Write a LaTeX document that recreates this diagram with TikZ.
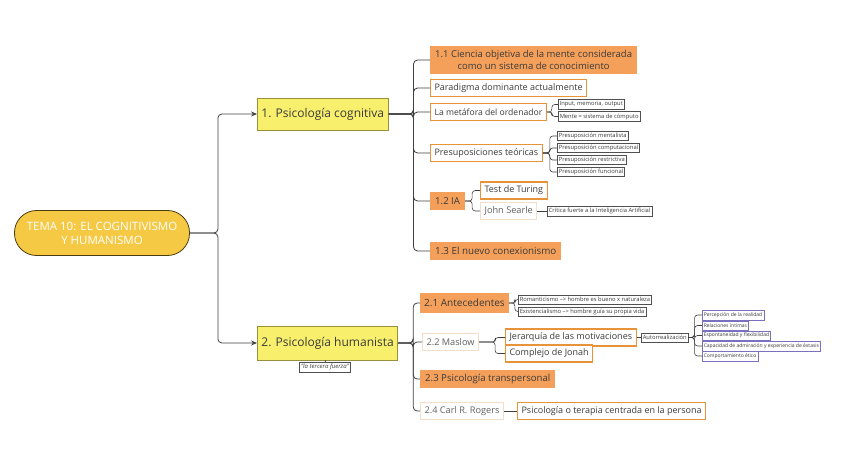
\documentclass[tikz,border=0pt]{standalone}
\usepackage{fontspec}
\setmainfont{Open Sans}
\usetikzlibrary{arrows.meta}
\definecolor{txt}{HTML}{3A3A3A}
\definecolor{rootfill}{HTML}{F6C945}
\definecolor{rootdraw}{HTML}{4A3C10}
\definecolor{lfill}{HTML}{F8F06C}
\definecolor{ldraw}{HTML}{9A8F3A}
\definecolor{ofill}{HTML}{F5A05A}
\definecolor{odraw}{HTML}{E8923A}
\definecolor{pale}{HTML}{F2DECB}
\definecolor{sgray}{HTML}{505050}
\definecolor{purp}{HTML}{7A70C0}
\definecolor{conn}{HTML}{404040}
\tikzset{
  base/.style={inner sep=0pt, text=txt, anchor=west, align=center},
  rootbox/.style={base, anchor=center, fill=rootfill, draw=rootdraw, line width=0.8pt, rounded corners=22pt, minimum width=175pt, minimum height=45pt, text=white, font=\fontsize{11.5}{14}\selectfont},
  lone/.style={base, fill=lfill, draw=ldraw, line width=0.8pt, minimum height=32pt, inner xsep=4pt, font=\fontsize{12}{14}\selectfont},
  ofilled/.style={base, fill=ofill, minimum height=18pt, inner xsep=5pt, font=\fontsize{9.6}{11}\selectfont},
  obox/.style={base, fill=white, draw=odraw, line width=1.1pt, minimum height=17pt, inner xsep=4pt, font=\fontsize{9}{11}\selectfont},
  pbox/.style={base, fill=white, draw=pale, line width=1.1pt, minimum height=17pt, inner xsep=4pt, font=\fontsize{9.2}{11}\selectfont, text=txt!80},
  sbox/.style={base, fill=white, draw=sgray, line width=0.5pt, minimum height=9.5pt, inner xsep=1.5pt, font=\fontsize{5.8}{6}\selectfont},
  vbox/.style={sbox, draw=purp, font=\fontsize{5}{6}\selectfont},
  link/.style={draw=conn, line width=0.8pt, rounded corners=4pt},
  slink/.style={draw=conn, line width=0.6pt, rounded corners=3pt},
}
\begin{document}
\begin{tikzpicture}[x=1pt,y=-1pt]
\useasboundingbox[fill=white] (0,0) rectangle (848,465);
% root
\node[rootbox] (root) at (102,233) {TEMA 10: EL COGNITIVISMO\\Y HUMANISMO};
% level 1
\node[lone] (cog) at (257,114) {1. Psicología cognitiva};
\node[lone, minimum height=34pt] (hum) at (257,343) {2. Psicología humanista};
\node[sbox, anchor=center, font=\fontsize{6}{7}\selectfont\itshape] (nota) at (325,367) {"la tercera fuerza"};
% cognitive children
\node[ofilled, minimum height=28pt, font=\fontsize{9.5}{11.5}\selectfont] (c11) at (430,60) {1.1 Ciencia objetiva de la mente considerada\\como un sistema de conocimiento};
\node[obox] (par) at (430,88) {Paradigma dominante actualmente};
\node[obox, font=\fontsize{8.6}{11}\selectfont] (met) at (430,112) {La metáfora del ordenador};
\node[sbox] (met1) at (558,104.5) {Input, memoria, output};
\node[sbox] (met2) at (558,116.5) {Mente = sistema de cómputo};
\node[obox] (pre) at (430,153) {Presuposiciones teóricas};
\node[sbox] (pre1) at (557,136) {Presuposición mentalista};
\node[sbox] (pre2) at (557,148) {Presuposición computacional};
\node[sbox] (pre3) at (557,160) {Presuposición restrictiva};
\node[sbox] (pre4) at (557,172) {Presuposición funcional};
\node[ofilled] (ia) at (430,201) {1.2 IA};
\node[obox] (tur) at (480,190.5) {Test de Turing};
\node[pbox] (sea) at (480,211) {John Searle};
\node[sbox] (cri) at (547,211) {Crítica fuerte a la Inteligencia Artificial};
\node[ofilled, font=\fontsize{9.8}{11}\selectfont] (con) at (430,251) {1.3 El nuevo conexionismo};
% humanist children
\node[ofilled, minimum height=20pt, font=\fontsize{10}{12}\selectfont, inner xsep=4pt] (ant) at (420,303) {2.1 Antecedentes};
\node[sbox] (ant1) at (518,299.5) {Romanticismo --> hombre es bueno x naturaleza};
\node[sbox] (ant2) at (518,311.5) {Existencialismo --> hombre guía su propia vida};
\node[pbox] (mas) at (422,342) {2.2 Maslow};
\node[obox] (jer) at (505,337.5) {Jerarquía de las motivaciones};
\node[obox] (jon) at (505,353.5) {Complejo de Jonah};
\node[sbox] (aut) at (641,337.5) {Autorrealización};
\node[vbox] (v1) at (702,315) {Percepción de la realidad};
\node[vbox] (v2) at (702,325.5) {Relaciones íntimas};
\node[vbox] (v3) at (702,335.5) {Espontaneidad y flexibilidad};
\node[vbox] (v4) at (702,346) {Capacidad de admiración y experiencia de éxtasis};
\node[vbox] (v5) at (702,356) {Comportamiento ético};
\node[ofilled] (tra) at (420,379) {2.3 Psicología transpersonal};
\node[pbox] (rog) at (420,411) {2.4 Carl R. Rogers};
\node[obox] (ter) at (517,411) {Psicología o terapia centrada en la persona};
% connectors
\draw[link,-{Stealth[length=6pt,width=5pt]}] (root.east) -- ++(28,0) |- (cog.west);
\draw[link,-{Stealth[length=6pt,width=5pt]}] (root.east) -- ++(28,0) |- (hum.west);
\draw[line width=0.5pt, draw=sgray] (hum.south -| nota.north) -- (nota.north);
\foreach \c in {c11,par,met,pre,ia,con}
  \draw[link] (cog.east) -- ++(25,0) |- (\c.west);
\foreach \c in {met1,met2}
  \draw[slink] (met.east) -- ++(5,0) |- (\c.west);
\foreach \c in {pre1,pre2,pre3,pre4}
  \draw[slink] (pre.east) -- ++(7,0) |- (\c.west);
\foreach \c in {tur,sea}
  \draw[slink] (ia.east) -- ++(7,0) |- (\c.west);
\draw[slink] (sea.east) -- (cri.west);
\foreach \c in {ant,mas,tra,rog}
  \draw[link] (hum.east) -- ++(15,0) |- (\c.west);
\foreach \c in {ant1,ant2}
  \draw[slink] (ant.east) -- ++(6,0) |- (\c.west);
\foreach \c in {jer,jon}
  \draw[slink] (mas.east) -- ++(16,0) |- (\c.west);
\draw[slink] (jer.east) -- (aut.west);
\foreach \c in {v1,v2,v3,v4,v5}
  \draw[slink] (aut.east) -- ++(6,0) |- (\c.west);
\draw[slink] (rog.east) -- (ter.west);
\end{tikzpicture}
\end{document}
